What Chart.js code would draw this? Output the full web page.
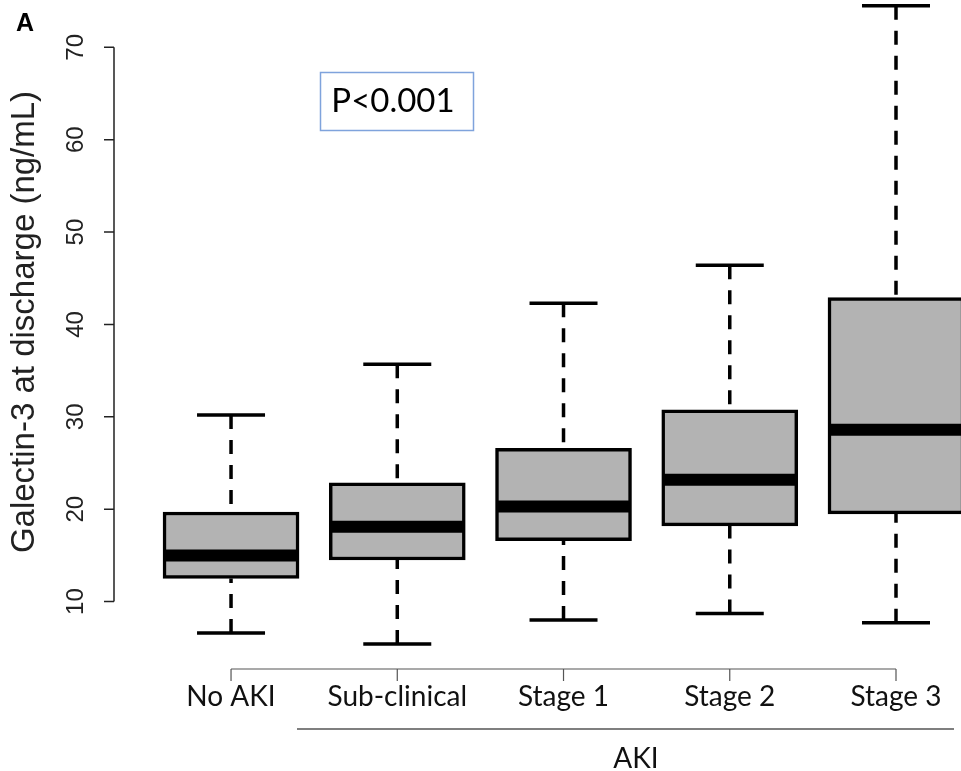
<!DOCTYPE html>
<html>
<head>
<meta charset="utf-8">
<script src="https://cdn.jsdelivr.net/npm/chart.js@4.4.1/dist/chart.umd.min.js"></script>
<style>
  html, body { margin: 0; padding: 0; background: #fff; }
  #wrap { width: 961px; height: 771px; }
</style>
</head>
<body>
<div id="wrap"><canvas id="galectin" width="961" height="771"></canvas></div>
<script>
// box plot values (ng/mL)
var groups = ['No AKI', 'Sub-clinical', 'Stage 1', 'Stage 2', 'Stage 3'];
var whiskerLow = [6.6, 5.4, 8.0, 8.7, 7.7];
var q1 = [12.5, 14.5, 16.6, 18.2, 19.5];
var medians = [15.0, 18.1, 20.3, 23.2, 28.6];
var q3 = [19.7, 22.85, 26.6, 30.75, 42.9];
var whiskerHigh = [30.2, 35.7, 42.3, 46.4, 74.5];
var yTicks = [10, 20, 30, 40, 50, 60, 70];
var groupLabel = 'AKI';
var pText = 'P<0.001';

var labelFont = 'Lato, "Open Sans", sans-serif';
var arialFont = '"Liberation Sans", Arial, sans-serif';

// whiskers, caps and medians around the floating bars
var boxExtras = {
  id: 'boxExtras',
  beforeDatasetsDraw: function(chart) {
    var ctx = chart.ctx, xs = chart.scales.x, ys = chart.scales.y;
    ctx.save();
    ctx.strokeStyle = '#000';
    ctx.lineWidth = 3.5;
    for (var i = 0; i < groups.length; i++) {
      var x = xs.getPixelForValue(i + 1);
      // dashed stems, drawn from cap toward box like R does
      ctx.setLineDash([14, 11]);
      ctx.beginPath();
      ctx.moveTo(x, ys.getPixelForValue(whiskerHigh[i]));
      ctx.lineTo(x, ys.getPixelForValue(q3[i]));
      ctx.moveTo(x, ys.getPixelForValue(whiskerLow[i]));
      ctx.lineTo(x, ys.getPixelForValue(q1[i]));
      ctx.stroke();
      ctx.setLineDash([]);
      // caps
      ctx.beginPath();
      ctx.moveTo(x - 34, ys.getPixelForValue(whiskerHigh[i]));
      ctx.lineTo(x + 34, ys.getPixelForValue(whiskerHigh[i]));
      ctx.moveTo(x - 34, ys.getPixelForValue(whiskerLow[i]));
      ctx.lineTo(x + 34, ys.getPixelForValue(whiskerLow[i]));
      ctx.stroke();
    }
    ctx.restore();
  },
  afterDatasetsDraw: function(chart) {
    var ctx = chart.ctx, xs = chart.scales.x, ys = chart.scales.y;
    ctx.save();
    ctx.strokeStyle = '#000';
    ctx.lineWidth = 12;
    for (var i = 0; i < groups.length; i++) {
      var x = xs.getPixelForValue(i + 1);
      var y = ys.getPixelForValue(medians[i]);
      ctx.beginPath();
      ctx.moveTo(x - 66, y);
      ctx.lineTo(x + 66, y);
      ctx.stroke();
    }
    ctx.restore();
  },
  afterDraw: function(chart) {
    var ctx = chart.ctx, xs = chart.scales.x, ys = chart.scales.y;
    ctx.save();

    // y axis, R style: line only over the tick range
    var ax = 114;
    ctx.strokeStyle = '#222';
    ctx.lineWidth = 1.5;
    ctx.beginPath();
    ctx.moveTo(ax, ys.getPixelForValue(yTicks[0]));
    ctx.lineTo(ax, ys.getPixelForValue(yTicks[yTicks.length - 1]));
    yTicks.forEach(function(t) {
      var y = ys.getPixelForValue(t);
      ctx.moveTo(ax, y);
      ctx.lineTo(ax - 10, y);
    });
    ctx.stroke();

    ctx.fillStyle = '#222';
    ctx.font = '24px ' + arialFont;
    ctx.textAlign = 'center';
    ctx.textBaseline = 'alphabetic';
    yTicks.forEach(function(t) {
      ctx.save();
      ctx.translate(83, ys.getPixelForValue(t));
      ctx.rotate(-Math.PI / 2);
      ctx.fillText(String(t), 0, 0);
      ctx.restore();
    });

    // y title
    ctx.save();
    ctx.translate(34, 322);
    ctx.rotate(-Math.PI / 2);
    ctx.font = '33px ' + arialFont;
    ctx.fillStyle = '#222';
    ctx.fillText('Galectin-3 at discharge (ng/mL)', 0, 0);
    ctx.restore();

    // x axis with ticks pointing down
    var ay = 669;
    ctx.strokeStyle = '#555';
    ctx.lineWidth = 1.2;
    ctx.beginPath();
    ctx.moveTo(xs.getPixelForValue(1), ay);
    ctx.lineTo(xs.getPixelForValue(groups.length), ay);
    for (var i = 0; i < groups.length; i++) {
      var x = xs.getPixelForValue(i + 1);
      ctx.moveTo(x, ay);
      ctx.lineTo(x, ay + 12);
    }
    ctx.stroke();

    ctx.fillStyle = '#111';
    ctx.font = '28px ' + labelFont;
    ctx.textBaseline = 'alphabetic';
    for (var j = 0; j < groups.length; j++) {
      ctx.fillText(groups[j], xs.getPixelForValue(j + 1), 706);
    }

    // AKI bracket line and label
    ctx.strokeStyle = '#555';
    ctx.lineWidth = 1.5;
    ctx.beginPath();
    ctx.moveTo(297, 729);
    ctx.lineTo(954, 729);
    ctx.stroke();
    ctx.fillText(groupLabel, 636, 768);

    // p-value box
    ctx.strokeStyle = '#7fa3dc';
    ctx.lineWidth = 1.5;
    ctx.strokeRect(320.5, 72.5, 153, 58);
    ctx.font = '33px ' + labelFont;
    ctx.fillStyle = '#000';
    ctx.fillText(pText, 393, 112);

    // panel letter
    ctx.font = 'bold 25px ' + arialFont;
    ctx.textAlign = 'left';
    ctx.fillText('A', 16, 31);

    ctx.restore();
  }
};

new Chart('galectin', {
  type: 'bar',
  data: {
    datasets: [{
      data: groups.map(function(g, i) { return { x: i + 1, y: [q1[i], q3[i]] }; }),
      backgroundColor: '#b3b3b3',
      borderColor: '#000',
      borderWidth: 3.5,
      borderSkipped: false,
      barThickness: 136
    }]
  },
  options: {
    responsive: false,
    animation: false,
    layout: { padding: { left: 114, right: 0, top: 0, bottom: 77 } },
    plugins: { legend: { display: false }, tooltip: { enabled: false } },
    scales: {
      x: { type: 'linear', display: false, offset: false, min: 0.296, max: 5.391 },
      y: { type: 'linear', display: false, min: 0, max: 75.12 }
    }
  },
  plugins: [boxExtras]
});
</script>
</body>
</html>
